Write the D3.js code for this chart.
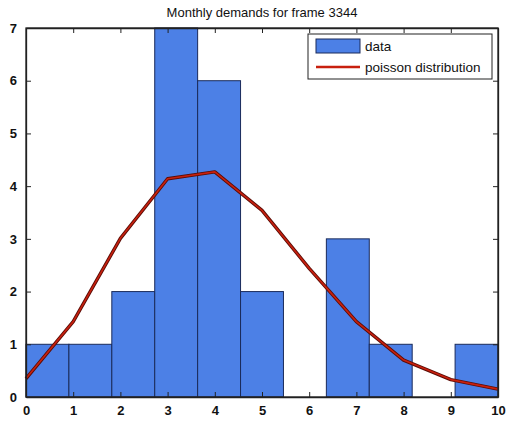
<!DOCTYPE html>
<html>
<head>
<meta charset="utf-8">
<script src="https://cdn.jsdelivr.net/npm/d3@7"></script>
<style>
  body { margin: 0; background: #fff; }
  svg text { font-family: "Liberation Sans", Arial, sans-serif; }
</style>
</head>
<body>
<div class="chart"></div>
<script>
// data
var binCounts = [1, 1, 2, 7, 6, 2, 0, 3, 1, 0, 1];
var poissonX = [0, 1, 2, 3, 4, 5, 6, 7, 8, 9, 10];
var poissonY = [0.35, 1.43, 3.01, 4.14, 4.27, 3.54, 2.44, 1.43, 0.7, 0.33, 0.15];
var xTicks = [0, 1, 2, 3, 4, 5, 6, 7, 8, 9, 10];
var yTicks = [0, 1, 2, 3, 4, 5, 6, 7];
var titleText = "Monthly demands for frame 3344";

var svgWidth = 511;
var svgHeight = 421;
var margin = { top: 28, right: 13, bottom: 24, left: 26 };
var chartWidth = svgWidth - margin.left - margin.right;
var chartHeight = svgHeight - margin.top - margin.bottom;

var svg = d3.select(".chart")
  .append("svg")
  .attr("width", svgWidth)
  .attr("height", svgHeight);

var chartGroup = svg.append("g")
  .attr("transform", `translate(${margin.left}, ${margin.top})`);

var xScale = d3.scaleLinear().domain([0, 10]).range([0, chartWidth]);
var yScale = d3.scaleLinear().domain([0, 7]).range([chartHeight, 0]);

// histogram bars, 11 equal bins over 0..10
var binWidth = 10 / binCounts.length;
chartGroup.selectAll("rect.bar")
  .data(binCounts)
  .enter()
  .append("rect")
  .classed("bar", true)
  .attr("x", (d, i) => xScale(i * binWidth))
  .attr("y", d => yScale(d))
  .attr("width", xScale(binWidth) - xScale(0))
  .attr("height", d => yScale(0) - yScale(d))
  .attr("fill", "#4c80e6")
  .attr("stroke", "#1a2a5a")
  .attr("stroke-width", 1);

// poisson curve, dark edge + red core
var line = d3.line()
  .x((d, i) => xScale(poissonX[i]))
  .y(d => yScale(d));

chartGroup.append("path")
  .datum(poissonY)
  .attr("d", line)
  .attr("fill", "none")
  .attr("stroke", "#5a0c06")
  .attr("stroke-width", 3.4)
  .attr("stroke-linejoin", "round");

chartGroup.append("path")
  .datum(poissonY)
  .attr("d", line)
  .attr("fill", "none")
  .attr("stroke", "#c8200e")
  .attr("stroke-width", 1.6)
  .attr("stroke-linejoin", "round");

// axes, ticks pointing inward on all four sides
var bottomAxis = d3.axisBottom(xScale).tickValues(xTicks).tickFormat(d3.format("d")).tickSizeInner(-5).tickSizeOuter(0).tickPadding(9);
var topAxis = d3.axisTop(xScale).tickValues(xTicks).tickSizeInner(-5).tickSizeOuter(0).tickFormat("");
var leftAxis = d3.axisLeft(yScale).tickValues(yTicks).tickFormat(d3.format("d")).tickSizeInner(-5).tickSizeOuter(0).tickPadding(9);
var rightAxis = d3.axisRight(yScale).tickValues(yTicks).tickSizeInner(-5).tickSizeOuter(0).tickFormat("");

chartGroup.append("g")
  .attr("transform", `translate(0, ${chartHeight})`)
  .call(bottomAxis);
chartGroup.append("g").call(topAxis);
chartGroup.append("g").call(leftAxis);
chartGroup.append("g")
  .attr("transform", `translate(${chartWidth}, 0)`)
  .call(rightAxis);

chartGroup.selectAll(".domain").attr("stroke", "#222").attr("stroke-width", 1.3);
chartGroup.selectAll(".tick line").attr("stroke", "#222");
chartGroup.selectAll(".tick text")
  .attr("font-size", 13)
  .attr("font-weight", "bold")
  .attr("fill", "#111");

// box edges
chartGroup.append("rect")
  .attr("width", chartWidth)
  .attr("height", chartHeight)
  .attr("fill", "none")
  .attr("stroke", "#222")
  .attr("stroke-width", 1.3);

// title
svg.append("text")
  .attr("x", margin.left + chartWidth / 2)
  .attr("y", 17)
  .attr("text-anchor", "middle")
  .attr("font-size", 13)
  .attr("fill", "#111")
  .text(titleText);

// legend
var legend = chartGroup.append("g")
  .attr("transform", `translate(${chartWidth - 190}, 6)`);

legend.append("rect")
  .attr("width", 184)
  .attr("height", 45)
  .attr("fill", "#fff")
  .attr("stroke", "#222")
  .attr("stroke-width", 1);

legend.append("rect")
  .attr("x", 8)
  .attr("y", 5)
  .attr("width", 44)
  .attr("height", 14)
  .attr("fill", "#4c80e6")
  .attr("stroke", "#1a2a5a");

legend.append("line")
  .attr("x1", 8)
  .attr("x2", 52)
  .attr("y1", 33)
  .attr("y2", 33)
  .attr("stroke", "#c8200e")
  .attr("stroke-width", 2.6);

legend.append("text")
  .attr("x", 57)
  .attr("y", 17)
  .attr("font-size", 13.5)
  .attr("fill", "#111")
  .text("data");

legend.append("text")
  .attr("x", 57)
  .attr("y", 38)
  .attr("font-size", 13.5)
  .attr("fill", "#111")
  .text("poisson distribution");
</script>
</body>
</html>
